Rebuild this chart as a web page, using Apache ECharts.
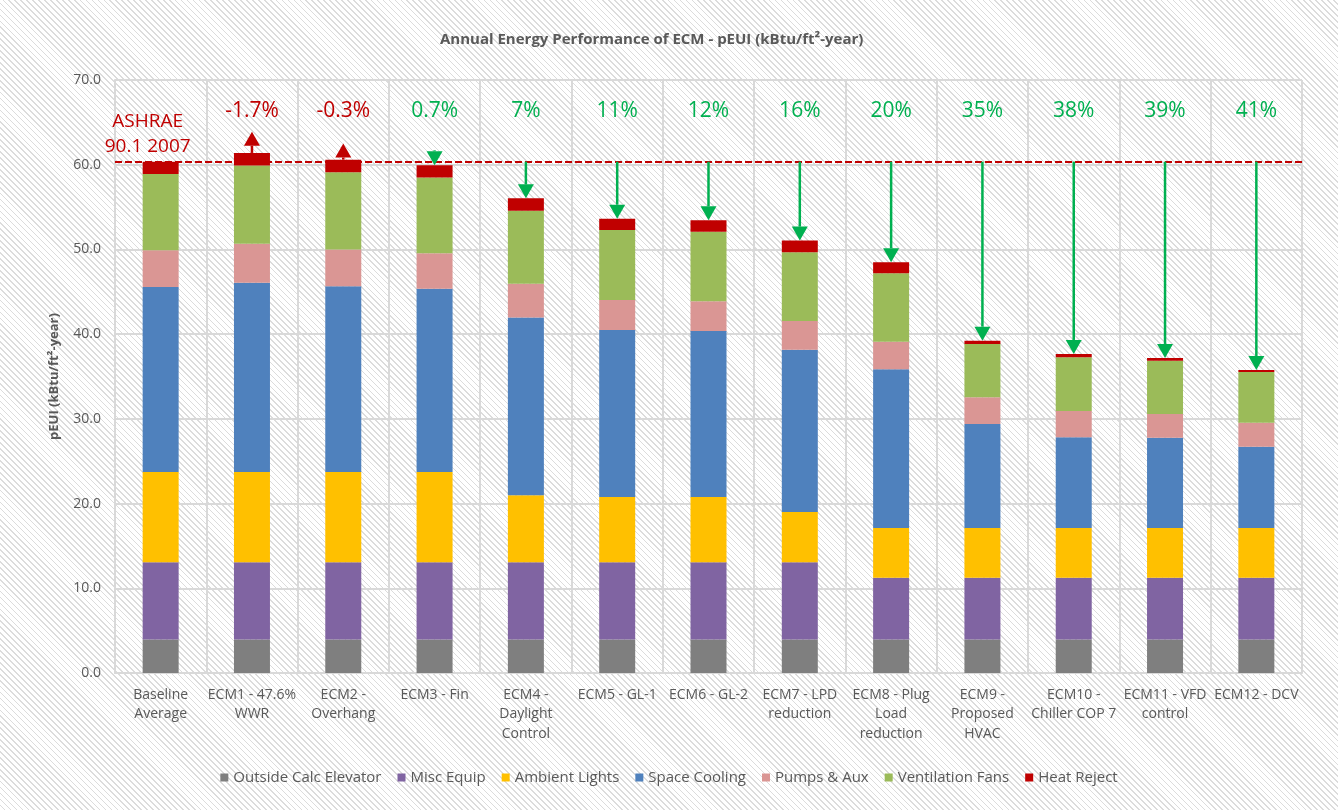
<!DOCTYPE html>
<html lang="en">
<head>
    <meta charset="UTF-8">
    <title>Annual Energy Performance of ECM</title>
    <script type="text/javascript" src="https://cdn.jsdelivr.net/npm/echarts@6/dist/echarts.min.js"></script>
    <style>
        html, body { margin: 0; padding: 0; }
        #charts {
            width: 1338px;
            height: 810px;
            background: repeating-linear-gradient(45deg, #ffffff 0px, #ffffff 3px, #dcdcdc 3px, #dcdcdc 4.2px);
        }
    </style>
</head>
<body>
<div id="charts"></div>
<script>
    var categories = ['Baseline\nAverage', 'ECM1 - 47.6%\nWWR', 'ECM2 -\nOverhang', 'ECM3 - Fin',
        'ECM4 -\nDaylight\nControl', 'ECM5 - GL-1', 'ECM6 - GL-2', 'ECM7 - LPD\nreduction',
        'ECM8 - Plug\nLoad\nreduction', 'ECM9 -\nProposed\nHVAC', 'ECM10 -\nChiller COP 7',
        'ECM11 - VFD\ncontrol', 'ECM12 - DCV']
    var elevator = [3.94, 3.94, 3.94, 3.94, 3.94, 3.94, 3.94, 3.94, 3.94, 3.94, 3.94, 3.94, 3.94]
    var miscEquip = [9.13, 9.13, 9.13, 9.13, 9.13, 9.13, 9.13, 9.13, 7.31, 7.31, 7.31, 7.31, 7.31]
    var ambientLights = [10.66, 10.66, 10.66, 10.66, 7.90, 7.71, 7.71, 5.93, 5.87, 5.87, 5.87, 5.87, 5.87]
    var spaceCooling = [21.84, 22.35, 21.92, 21.64, 20.98, 19.71, 19.59, 19.17, 18.73, 12.27, 10.70, 10.66, 9.59]
    var pumpsAux = [4.33, 4.60, 4.33, 4.17, 4.01, 3.54, 3.51, 3.38, 3.26, 3.16, 3.11, 2.79, 2.84]
    var ventFans = [9.00, 9.22, 9.12, 8.96, 8.62, 8.27, 8.22, 8.11, 8.07, 6.29, 6.34, 6.30, 5.98]
    var heatReject = [1.46, 1.49, 1.50, 1.43, 1.45, 1.33, 1.34, 1.38, 1.30, 0.39, 0.39, 0.32, 0.24]

    var savings = ['', '-1.7%', '-0.3%', '0.7%', '7%', '11%', '12%', '16%', '20%', '35%', '38%', '39%', '41%']
    // arrows: up arrows end at a tip above the bar, ECM3 starts a bit above the line
    var arrowUpTip = [null, 63.9, 62.5, null, null, null, null, null, null, null, null, null, null]
    var arrowTail = [null, null, null, 61.7, null, null, null, null, null, null, null, null, null]
    var labelLevel = 66.3
    var ashraeLevel = 63.6

    var seriesNames = ['Outside Calc Elevator', 'Misc Equip', 'Ambient Lights', 'Space Cooling',
        'Pumps & Aux', 'Ventilation Fans', 'Heat Reject']
    var seriesData = [elevator, miscEquip, ambientLights, spaceCooling, pumpsAux, ventFans, heatReject]
    var colors = ['#7f7f7f', '#8064a2', '#ffc000', '#4f81bd', '#da9694', '#9bbb59', '#c00000']

    var totals = categories.map(function (c, i) {
        var s = 0
        seriesData.forEach(function (d) { s += d[i] })
        return +s.toFixed(2)
    })
    var reference = totals[0]

    var arrows = []
    for (var i = 1; i < categories.length; i++) {
        if (arrowUpTip[i] != null) {
            arrows.push([i, totals[i], arrowUpTip[i], 1])
        } else {
            arrows.push([i, arrowTail[i] != null ? arrowTail[i] : reference, totals[i], 0])
        }
    }

    var txtColor = '#595959'
    var font = '"Open Sans", sans-serif'

    var series = seriesNames.map(function (name, k) {
        var s = {
            name: name,
            type: 'bar',
            stack: 'eui',
            barWidth: 36,
            itemStyle: {color: colors[k]},
            data: seriesData[k]
        }
        if (k == 0) {
            s.markLine = {
                silent: true,
                symbol: 'none',
                label: {show: false},
                lineStyle: {color: '#c00000', type: [7, 3], width: 2},
                data: [{yAxis: reference}]
            }
        }
        return s
    })

    series.push({
        type: 'custom',
        silent: true,
        z: 5,
        data: arrows,
        renderItem: function (params, api) {
            var p0 = api.coord([api.value(0), api.value(1)])
            var p1 = api.coord([api.value(0), api.value(2)])
            var up = api.value(3) == 1
            var color = up ? '#c00000' : '#00b050'
            var dir = p1[1] > p0[1] ? 1 : -1
            var h = 14, w = 8
            var base = p1[1] - dir * h
            var children = []
            if (Math.abs(p1[1] - p0[1]) > h) {
                children.push({
                    type: 'line',
                    shape: {x1: p0[0], y1: p0[1], x2: p1[0], y2: base},
                    style: {stroke: color, lineWidth: 2.5}
                })
            }
            children.push({
                type: 'polygon',
                shape: {points: [[p1[0], p1[1]], [p1[0] - w, base], [p1[0] + w, base]]},
                style: {fill: color}
            })
            return {type: 'group', children: children}
        }
    })

    series.push({
        type: 'custom',
        silent: true,
        z: 6,
        data: savings.map(function (s, i) { return [i, labelLevel, s] }),
        renderItem: function (params, api) {
            var p = api.coord([api.value(0), api.value(1)])
            var t = savings[params.dataIndex]
            return {
                type: 'text',
                x: p[0], y: p[1],
                style: {
                    text: t, fill: t.charAt(0) == '-' ? '#c00000' : '#00b050',
                    font: '21px ' + font, align: 'center', verticalAlign: 'middle'
                }
            }
        }
    })

    series.push({
        type: 'custom',
        silent: true,
        z: 6,
        data: [[0, ashraeLevel]],
        renderItem: function (params, api) {
            var p = api.coord([api.value(0), api.value(1)])
            return {
                type: 'text',
                x: p[0] - 13, y: p[1],
                style: {
                    text: 'ASHRAE\n90.1 2007', fill: '#c00000', lineHeight: 25,
                    font: '19px ' + font, align: 'center', verticalAlign: 'middle'
                }
            }
        }
    })

    var chart = echarts.init(document.getElementById('charts'), null, {renderer: 'canvas'})
    chart.setOption({
        animation: false,
        backgroundColor: 'transparent',
        color: colors,
        title: {
            text: 'Annual Energy Performance of ECM - pEUI (kBtu/ft²-year)',
            left: 435, top: 27,
            textStyle: {color: txtColor, fontSize: 15, fontWeight: 'bold', fontFamily: font}
        },
        legend: {
            bottom: 20,
            data: seriesNames,
            icon: 'rect',
            itemWidth: 8, itemHeight: 8, itemGap: 16,
            textStyle: {color: txtColor, fontSize: 15, fontFamily: font}
        },
        grid: {left: 115, right: 36, top: 80, bottom: 137},
        xAxis: {
            type: 'category',
            data: categories,
            axisTick: {show: false},
            axisLine: {lineStyle: {color: '#d9d9d9', width: 2}},
            splitLine: {show: true, lineStyle: {color: '#d9d9d9', width: 2}},
            axisLabel: {interval: 0, color: txtColor, fontSize: 14, lineHeight: 19.5, margin: 12, fontFamily: font}
        },
        yAxis: {
            type: 'value',
            min: 0, max: 70, interval: 10,
            name: 'pEUI (kBtu/ft²-year)',
            nameLocation: 'middle',
            nameGap: 54,
            nameTextStyle: {color: txtColor, fontSize: 13, fontWeight: 'bold', fontFamily: font},
            axisLine: {show: true, lineStyle: {color: '#d9d9d9', width: 2}},
            splitLine: {lineStyle: {color: '#d9d9d9', width: 2}},
            axisLabel: {color: txtColor, fontSize: 14, margin: 14, fontFamily: font,
                formatter: function (v) { return v.toFixed(1) }}
        },
        series: series
    })
</script>
</body>
</html>
